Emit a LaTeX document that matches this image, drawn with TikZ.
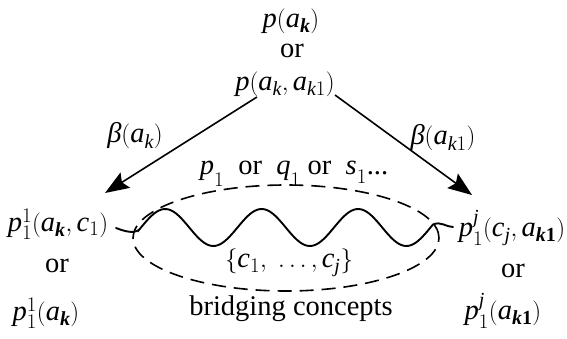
\documentclass[tikz,border=0pt]{standalone}
\usepackage{amsmath}
\usepackage{fontspec}
\setmainfont{Liberation Serif}
\usetikzlibrary{arrows.meta,shapes.geometric}
\newcommand{\vi}[1]{\text{\itshape #1}}
\newcommand{\vb}[1]{\text{\bfseries\itshape #1}}
\newcommand{\nb}[1]{\text{\bfseries #1}}
\newcommand{\lowone}{\raisebox{-5pt}{$\scriptstyle 1$}}
\begin{document}
\begin{tikzpicture}[x=1pt,y=-1pt,
  lbl/.style={inner sep=0pt, font=\fontsize{28.5}{31}\selectfont},
  arr/.style={line width=1.6pt, -{Stealth[length=24pt,width=18pt,inset=4pt]}},
  dashell/.style={draw, ellipse, line width=1.6pt, dash pattern=on 14pt off 8pt},
  wave/.style={line width=1.9pt, line cap=round}]
\useasboundingbox (0,0) rectangle (567,339);
% top
\node[lbl] (t1) at (291,21) {$\vi{p}(\vi{a}_{\vb{k}})$};
\node[lbl] (t2) at (292,51) {or};
\node[lbl] (t3) at (285,84) {$\vi{p}(\vi{a}_{\vi{k}},\vi{a}_{\vi{k}1})$};
% beta labels
\node[lbl] (bl) at (135,136) {$\vi{β}(\vi{a}_{\vi{k}})$};
\node[lbl] (br) at (443,138) {$\vi{β}(\vi{a}_{\vi{k}1})$};
% relation label
\node[lbl] (rel) at (294,174) {$\vi{p}_{\lowone}$\ \ or\ \ $\vi{q}_{\lowone}$\ or\ \ $\vi{s}_{\lowone}$...};
% left
\node[lbl] (l1) at (58,224) {$\vi{p}^1_1(\vi{a}_{\vb{k}},\vi{c}_1)$};
\node[lbl] (l2) at (57,266) {or};
\node[lbl] (l3) at (46,313) {$\vi{p}^1_1(\vi{a}_{\vb{k}})$};
% right
\node[lbl] (r1) at (512,228) {$\vi{p}^{\vi{j}}_1(\vi{c}_{\vi{j}},\vi{a}_{\vb{k}\nb{1}})$};
\node[lbl] (r2) at (513,271) {or};
\node[lbl] (r3) at (503,311) {$\vi{p}^{\vi{j}}_1(\vi{a}_{\vb{k}\nb{1}})$};
% ellipse
\node[dashell, minimum width=306pt, minimum height=106pt, inner sep=0pt] (ell) at (286,238) {};
\node[lbl] (cs) at (289,263) {$\{\vi{c}_1,\ \ldots,\vi{c}_{\vi{j}}\}$};
\node[lbl] (bc) at (291,309) {bridging concepts};
% arrows
\coordinate (la) at (257,97);
\coordinate (lb) at (105,193);
\coordinate (ra) at (335,95);
\coordinate (rb) at (472,195);
\draw[arr] (la) -- (lb);
\draw[arr] (ra) -- (rb);
% wave
\coordinate (ws) at (116,228);
\coordinate (we) at (453,227);
\draw[wave] (ws) .. controls (124,231) and (133,234) .. (139,229.9)
  -- plot[domain=139:433, samples=120] (\x, {227.5-18.5*sin(3.7306*(\x-141))})
  .. controls (441,221) and (446,227) .. (we);
\end{tikzpicture}
\end{document}
